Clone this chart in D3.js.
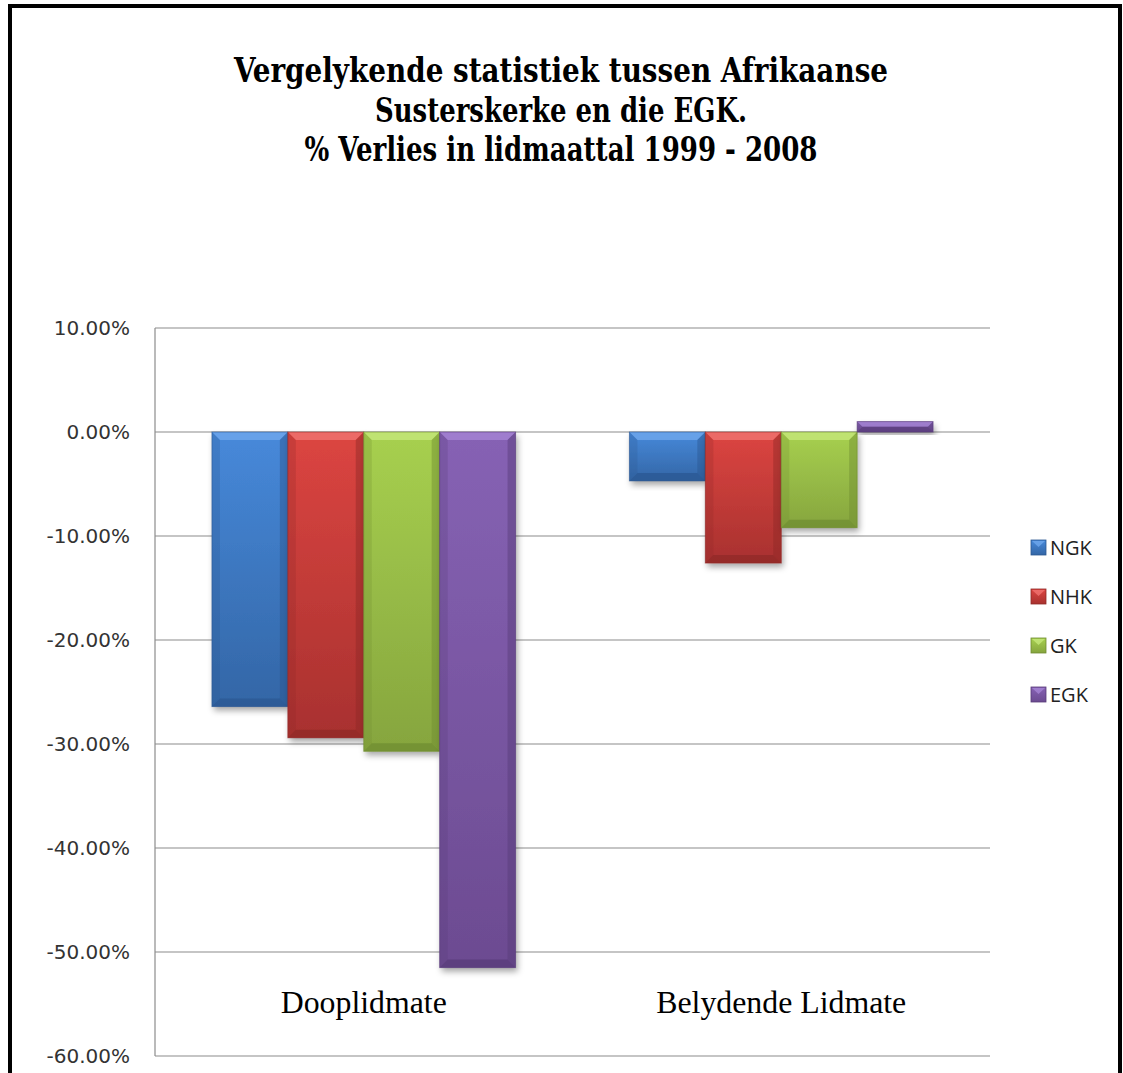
<!DOCTYPE html>
<html><head><meta charset="utf-8">
<script src="https://cdn.jsdelivr.net/npm/d3@7/dist/d3.min.js"></script>
<style>body{margin:0;background:#fff;}svg{display:block;}</style>
</head><body>
<svg id="c" width="1123" height="1073"></svg>
<script>
const categories = ["Dooplidmate", "Belydende Lidmate"];
const seriesNames = ["NGK", "NHK", "GK", "EGK"];
const NGK = [-26.4, -4.7];
const NHK = [-29.4, -12.6];
const GK  = [-30.7, -9.2];
const EGK = [-51.5, 1.0];
const seriesValues = [NGK, NHK, GK, EGK];
const yTicks = [10, 0, -10, -20, -30, -40, -50, -60];
const titleLines = ["Vergelykende statistiek tussen Afrikaanse", "Susterskerke en die EGK.", "% Verlies in lidmaattal 1999 - 2008"];
const colors = [
  {top:"#4789DA", bot:"#3366A6", light:"#6FA7EC", dark:"#2B5791"},
  {top:"#DC4541", bot:"#A8312F", light:"#F07370", dark:"#8E2826"},
  {top:"#A7D04F", bot:"#86A53E", light:"#C6E77A", dark:"#6E8B30"},
  {top:"#8662B4", bot:"#6C4B91", light:"#A584D4", dark:"#573B78"}
];

const svg = d3.select("#c");
const plot = {l:155, r:990, t:328, b:1056};

// border
svg.append("rect").attr("x",10).attr("y",6).attr("width",1110).attr("height",1100)
  .attr("fill","none").attr("stroke","#000").attr("stroke-width",4);

// title
const titleWidths = [654, 372, 513];
svg.append("g").selectAll("text").data(titleLines).join("text")
  .attr("text-anchor","middle").attr("x",561).attr("y",(d,i)=>82+i*39.5)
  .attr("font-family","'DejaVu Serif Condensed','DejaVu Serif',serif").attr("font-weight","bold")
  .attr("font-size",34).attr("fill","#000")
  .attr("textLength",(d,i)=>titleWidths[i]).attr("lengthAdjust","spacingAndGlyphs")
  .text(d=>d);

const y = d3.scaleLinear().domain([-60,10]).range([plot.b, plot.t]);
const x0 = d3.scaleBand().domain(categories).range([plot.l, plot.r]).paddingInner(0).paddingOuter(0);
const groupW = x0.bandwidth() * 4/5.5;
const x1 = d3.scaleBand().domain(seriesNames).range([0, groupW]).padding(0);

// gridlines
svg.append("g").selectAll("line").data(yTicks).join("line")
  .attr("x1",plot.l).attr("x2",plot.r).attr("y1",d=>y(d)).attr("y2",d=>y(d))
  .attr("stroke","#8c8c8c").attr("stroke-width",1.2);
svg.append("line").attr("x1",plot.l).attr("x2",plot.l).attr("y1",plot.t).attr("y2",plot.b)
  .attr("stroke","#8c8c8c").attr("stroke-width",1.2);

// y tick labels
const yAxis = d3.axisLeft(y).tickValues(yTicks).tickSize(0).tickPadding(25)
  .tickFormat(d=>d.toFixed(2)+"%");
const ga = svg.append("g").attr("transform",`translate(${plot.l},0)`).call(yAxis);
ga.select(".domain").remove();
ga.selectAll("text").attr("font-family","'DejaVu Sans',Verdana,sans-serif").attr("font-size",20).attr("fill","#333");

// defs
const defs = svg.append("defs");
colors.forEach((c,i)=>{
  const g = defs.append("linearGradient").attr("id","g"+i).attr("x1",0).attr("y1",0).attr("x2",0).attr("y2",1);
  g.append("stop").attr("offset","0%").attr("stop-color",c.top);
  g.append("stop").attr("offset","100%").attr("stop-color",c.bot);
});
const f = defs.append("filter").attr("id","sh").attr("x","-20%").attr("y","-20%").attr("width","140%").attr("height","140%");
f.append("feDropShadow").attr("dx",2).attr("dy",4).attr("stdDeviation",3).attr("flood-color","#000").attr("flood-opacity",0.35);

// bars
const data = [];
categories.forEach((cat,ci)=>{
  seriesNames.forEach((s,si)=>{ data.push({cat, s, si, v: seriesValues[si][ci]}); });
});
svg.append("g").selectAll("g").data(data).join("g").each(function(d){
  const g = d3.select(this);
  const bx = x0(d.cat) + (x0.bandwidth()-groupW)/2 + x1(d.s);
  const bw = x1.bandwidth();
  const yt = Math.min(y(d.v), y(0)), yb = Math.max(y(d.v), y(0));
  const bh = yb - yt;
  const c = colors[d.si];
  g.append("rect").attr("x",bx).attr("y",yt).attr("width",bw).attr("height",bh)
    .attr("fill","url(#g"+d.si+")").attr("filter","url(#sh)");
  const e = Math.min(8, bh/2, bw/2);
  g.append("polygon").attr("points",[[bx,yt],[bx+bw,yt],[bx+bw-e,yt+e],[bx+e,yt+e]].join(" "))
    .attr("fill",c.light).attr("opacity",0.8);
  g.append("polygon").attr("points",[[bx,yb],[bx+bw,yb],[bx+bw-e,yb-e],[bx+e,yb-e]].join(" "))
    .attr("fill",c.dark).attr("opacity",0.7);
  g.append("polygon").attr("points",[[bx,yt],[bx+e,yt+e],[bx+e,yb-e],[bx,yb]].join(" "))
    .attr("fill",c.dark).attr("opacity",0.25);
  g.append("polygon").attr("points",[[bx+bw,yt],[bx+bw-e,yt+e],[bx+bw-e,yb-e],[bx+bw,yb]].join(" "))
    .attr("fill",c.dark).attr("opacity",0.45);
  g.append("rect").attr("x",bx).attr("y",yt).attr("width",bw).attr("height",bh)
    .attr("fill","none").attr("stroke",c.dark).attr("stroke-width",1).attr("opacity",0.6);
});

// category labels
const catWidths = [166, 250];
svg.append("g").selectAll("text").data(categories).join("text")
  .attr("x",d=>x0(d)+x0.bandwidth()/2).attr("y",1013).attr("text-anchor","middle")
  .attr("font-family","'Liberation Serif','Times New Roman',serif").attr("font-size",31).attr("fill","#000")
  .attr("textLength",(d,i)=>catWidths[i]).attr("lengthAdjust","spacingAndGlyphs")
  .text(d=>d);

// legend
const lg = svg.append("g").selectAll("g").data(seriesNames).join("g")
  .attr("transform",(d,i)=>`translate(1031,${540+i*49})`);
lg.append("rect").attr("width",15).attr("height",15).attr("fill",(d,i)=>"url(#g"+i+")")
  .attr("stroke",(d,i)=>colors[i].dark).attr("stroke-width",0.8);
lg.append("polygon").attr("points","1,1 14,1 7.5,7").attr("fill",(d,i)=>colors[i].light).attr("opacity",0.8);
lg.append("text").attr("x",19).attr("y",15).attr("font-family","'Open Sans','Noto Sans',sans-serif")
  .attr("font-size",20).attr("fill","#222").text(d=>d);
</script>
</body></html>
